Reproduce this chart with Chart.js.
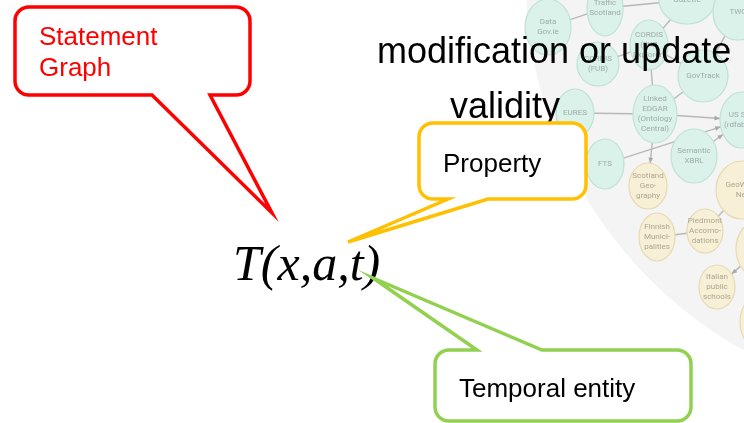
<!DOCTYPE html>
<html>
<head>
<meta charset="utf-8">
<script src="https://cdn.jsdelivr.net/npm/chart.js@4.4.1/dist/chart.umd.min.js"></script>
<style>
  html, body { margin: 0; padding: 0; background: #fff; }
  canvas { display: block; }
</style>
</head>
<body>
<canvas id="slide" width="744" height="423"></canvas>
<script>
// plot space = slide space (744 x 423, y grows downward)
const xRange = [0, 744];
const yRange = [0, 423];

// background LOD cloud
const cloudX = [950];
const cloudY = [-20];
const cloudR = [424];

// LOD cloud nodes
const nodeLabels = [
    ['Data', 'Gov.ie'],
    ['Traffic', 'Scotland'],
    ['Gazette'],
    ['TWC'],
    ['CORDIS', '(RKB', 'Explorer)'],
    ['CORDIS', '(FUB)'],
    ['GovTrack'],
    ['EURES'],
    ['Linked', 'EDGAR', '(Ontology', 'Central)'],
    ['US SEC', '(rdfabout)'],
    ['FTS'],
    ['Semantic', 'XBRL'],
    ['Scotland', 'Geo-', 'graphy'],
    ['GeoWord', 'Net'],
    ['Finnish', 'Munici-', 'palities'],
    ['Piedmont', 'Accomo-', 'dations'],
    ['El Viajero', 'Tourism'],
    ['Italian', 'public', 'schools'],
    ['']
];
const nodeX  = [548, 605, 687, 738, 649, 598, 703, 575, 655, 742, 605, 694, 648, 742, 657, 705, 760, 717, 762];
const nodeY  = [ 27,   8,   0,  12,  45,  64,  76, 113, 114, 120, 164, 156, 186, 190, 237, 231, 249, 287, 322];
const nodeRx = [ 23,  18,  28,  25,  19,  21,  25,  19,  22,  22,  19,  23,  19,  26,  18,  18,  24,  18,  22];
const nodeRy = [ 28,  28,  24,  28,  25,  22,  26,  24,  29,  28,  25,  27,  23,  29,  24,  22,  29,  22,  28];
const nodeKind = ['gov', 'gov', 'gov', 'gov', 'gov', 'gov', 'gov', 'gov', 'gov', 'gov', 'gov', 'gov',
                  'geo', 'geo', 'geo', 'geo', 'geo', 'geo', 'geo'];

// links between nodes
const edgeFrom  = [0, 1, 2, 5, 4, 4, 7, 8, 8, 8, 10, 11, 6, 14, 15, 16];
const edgeTo    = [1, 2, 4, 4, 6, 8, 8, 6, 9, 12, 9, 9, 3, 15, 13, 17];
const edgeArrow = [0, 0, 0, 0, 0, 0, 0, 0, 1, 1, 1, 1, 0, 0, 0, 1];

// slide texts
const headLines = ['modification or update', 'validity'];
const headX = [377, 450];
const headY = [63, 118];

const formulaText = 'T(x,a,t)';
const formulaX = 233;
const formulaY = 280;

// callouts: text, box [x1, y1, x2, y2], tail side, tail base a/b, tip
const calloutText  = [['Statement', 'Graph'], ['Property'], ['Temporal entity']];
const calloutBox   = [[15, 7, 250, 95], [419, 123, 586, 199], [435, 350, 691, 421]];
const calloutSide  = ['bottom', 'bottom', 'top'];
const calloutTailA = [152, 448, 477];
const calloutTailB = [210, 488, 542];
const calloutTipX  = [272, 348, 373];
const calloutTipY  = [213, 242, 278];
const calloutTextX = [39, 443, 459];
const calloutTextY = [45, 172, 397];
const calloutColor = ['#ff0000', '#ffc000', '#92d050'];
const calloutInk   = ['#ff0000', '#000000', '#000000'];

const nodeFill   = { gov: '#daf2ea', geo: '#f7f0d6' };
const nodeStroke = { gov: '#bfe2d5', geo: '#e6dab0' };
const nodeInk    = { gov: '#9fabaa', geo: '#aea68e' };

// each node is drawn as an ellipse image used as the point style
function makeNode(i) {
    const rx = nodeRx[i], ry = nodeRy[i];
    const c = document.createElement('canvas');
    c.width = rx * 2 + 4;
    c.height = ry * 2 + 4;
    const g = c.getContext('2d');
    const cx = c.width / 2, cy = c.height / 2;
    g.beginPath();
    g.ellipse(cx, cy, rx, ry, 0, 0, Math.PI * 2);
    g.fillStyle = nodeFill[nodeKind[i]];
    g.fill();
    g.lineWidth = 1.2;
    g.strokeStyle = nodeStroke[nodeKind[i]];
    g.stroke();
    g.fillStyle = nodeInk[nodeKind[i]];
    g.font = '8px Roboto, "DejaVu Sans", sans-serif';
    g.textAlign = 'center';
    g.textBaseline = 'middle';
    const lines = nodeLabels[i];
    const lh = 10;
    lines.forEach((t, k) => {
        g.fillText(t, cx, cy + (k - (lines.length - 1) / 2) * lh);
    });
    return c;
}
const nodeImages = nodeLabels.map((_, i) => makeNode(i));

function edgePoint(cx, cy, rx, ry, tx, ty) {
    const dx = tx - cx, dy = ty - cy;
    const t = 1 / Math.sqrt((dx / rx) ** 2 + (dy / ry) ** 2);
    return { x: cx + dx * t, y: cy + dy * t };
}

function drawEdges(chart) {
    const ctx = chart.ctx;
    const meta = chart.getDatasetMeta(0);
    const sx = chart.scales.x.getPixelForValue(1) - chart.scales.x.getPixelForValue(0);
    const sy = Math.abs(chart.scales.y.getPixelForValue(1) - chart.scales.y.getPixelForValue(0));
    ctx.save();
    ctx.strokeStyle = '#b8b8b8';
    ctx.fillStyle = '#a8a8a8';
    ctx.lineWidth = 1.4;
    edgeFrom.forEach((f, k) => {
        const t = edgeTo[k];
        const a = meta.data[f], b = meta.data[t];
        const p = edgePoint(a.x, a.y, nodeRx[f] * sx, nodeRy[f] * sy, b.x, b.y);
        const q = edgePoint(b.x, b.y, nodeRx[t] * sx, nodeRy[t] * sy, a.x, a.y);
        ctx.beginPath();
        ctx.moveTo(p.x, p.y);
        ctx.lineTo(q.x, q.y);
        ctx.stroke();
        if (edgeArrow[k]) {
            const ang = Math.atan2(q.y - p.y, q.x - p.x);
            ctx.beginPath();
            ctx.moveTo(q.x, q.y);
            ctx.lineTo(q.x - 6 * Math.cos(ang - 0.4), q.y - 6 * Math.sin(ang - 0.4));
            ctx.lineTo(q.x - 6 * Math.cos(ang + 0.4), q.y - 6 * Math.sin(ang + 0.4));
            ctx.closePath();
            ctx.fill();
        }
    });
    ctx.restore();
}

function drawCallout(chart, i) {
    const ctx = chart.ctx;
    const X = v => chart.scales.x.getPixelForValue(v);
    const Y = v => chart.scales.y.getPixelForValue(v);
    const [bx1, by1, bx2, by2] = calloutBox[i];
    const x1 = X(bx1), y1 = Y(by1), x2 = X(bx2), y2 = Y(by2);
    const a = X(calloutTailA[i]), b = X(calloutTailB[i]);
    const tx = X(calloutTipX[i]), ty = Y(calloutTipY[i]);
    const r = 14;
    ctx.save();
    ctx.beginPath();
    ctx.moveTo(x1 + r, y1);
    if (calloutSide[i] === 'top') {
        ctx.lineTo(a, y1);
        ctx.lineTo(tx, ty);
        ctx.lineTo(b, y1);
    }
    ctx.lineTo(x2 - r, y1);
    ctx.arcTo(x2, y1, x2, y1 + r, r);
    ctx.lineTo(x2, y2 - r);
    ctx.arcTo(x2, y2, x2 - r, y2, r);
    if (calloutSide[i] === 'bottom') {
        ctx.lineTo(b, y2);
        ctx.lineTo(tx, ty);
        ctx.lineTo(a, y2);
    }
    ctx.lineTo(x1 + r, y2);
    ctx.arcTo(x1, y2, x1, y2 - r, r);
    ctx.lineTo(x1, y1 + r);
    ctx.arcTo(x1, y1, x1 + r, y1, r);
    ctx.closePath();
    ctx.fillStyle = '#ffffff';
    ctx.fill();
    ctx.lineWidth = 3.5;
    ctx.strokeStyle = calloutColor[i];
    ctx.stroke();

    ctx.fillStyle = calloutInk[i];
    ctx.font = '26px "Liberation Sans", Arial, sans-serif';
    ctx.textBaseline = 'alphabetic';
    calloutText[i].forEach((t, k) => {
        ctx.fillText(t, X(calloutTextX[i]), Y(calloutTextY[i]) + k * 31);
    });
    ctx.restore();
}

const slidePlugin = {
    id: 'slide',
    afterDatasetDraw(chart, args) {
        if (args.index === 1) drawEdges(chart);
    },
    afterDatasetsDraw(chart) {
        const ctx = chart.ctx;
        const X = v => chart.scales.x.getPixelForValue(v);
        const Y = v => chart.scales.y.getPixelForValue(v);
        ctx.save();
        ctx.fillStyle = '#000000';
        ctx.font = '36px "Liberation Sans", Arial, sans-serif';
        headLines.forEach((t, k) => ctx.fillText(t, X(headX[k]), Y(headY[k])));
        ctx.font = 'italic 50px "Liberation Serif", "Times New Roman", serif';
        ctx.fillText(formulaText, X(formulaX), Y(formulaY));
        ctx.restore();
        calloutText.forEach((_, i) => drawCallout(chart, i));
    }
};

new Chart(document.getElementById('slide'), {
    type: 'bubble',
    data: {
        datasets: [{
            label: 'nodes',
            data: nodeX.map((x, i) => ({ x: x, y: nodeY[i], r: Math.max(nodeRx[i], nodeRy[i]) })),
            pointStyle: ctx => nodeImages[ctx.dataIndex],
            backgroundColor: 'rgba(0,0,0,0)',
            borderWidth: 0,
            clip: false
        }, {
            label: 'cloud',
            data: cloudX.map((x, i) => ({ x: x, y: cloudY[i], r: cloudR[i] })),
            backgroundColor: '#f4f4f4',
            borderWidth: 0
        }]
    },
    options: {
        responsive: false,
        animation: false,
        events: [],
        layout: { padding: 0, autoPadding: false },
        scales: {
            x: { type: 'linear', min: xRange[0], max: xRange[1], display: false },
            y: { type: 'linear', min: yRange[0], max: yRange[1], reverse: true, display: false }
        },
        plugins: {
            legend: { display: false },
            tooltip: { enabled: false }
        }
    },
    plugins: [slidePlugin]
});
</script>
</body>
</html>
